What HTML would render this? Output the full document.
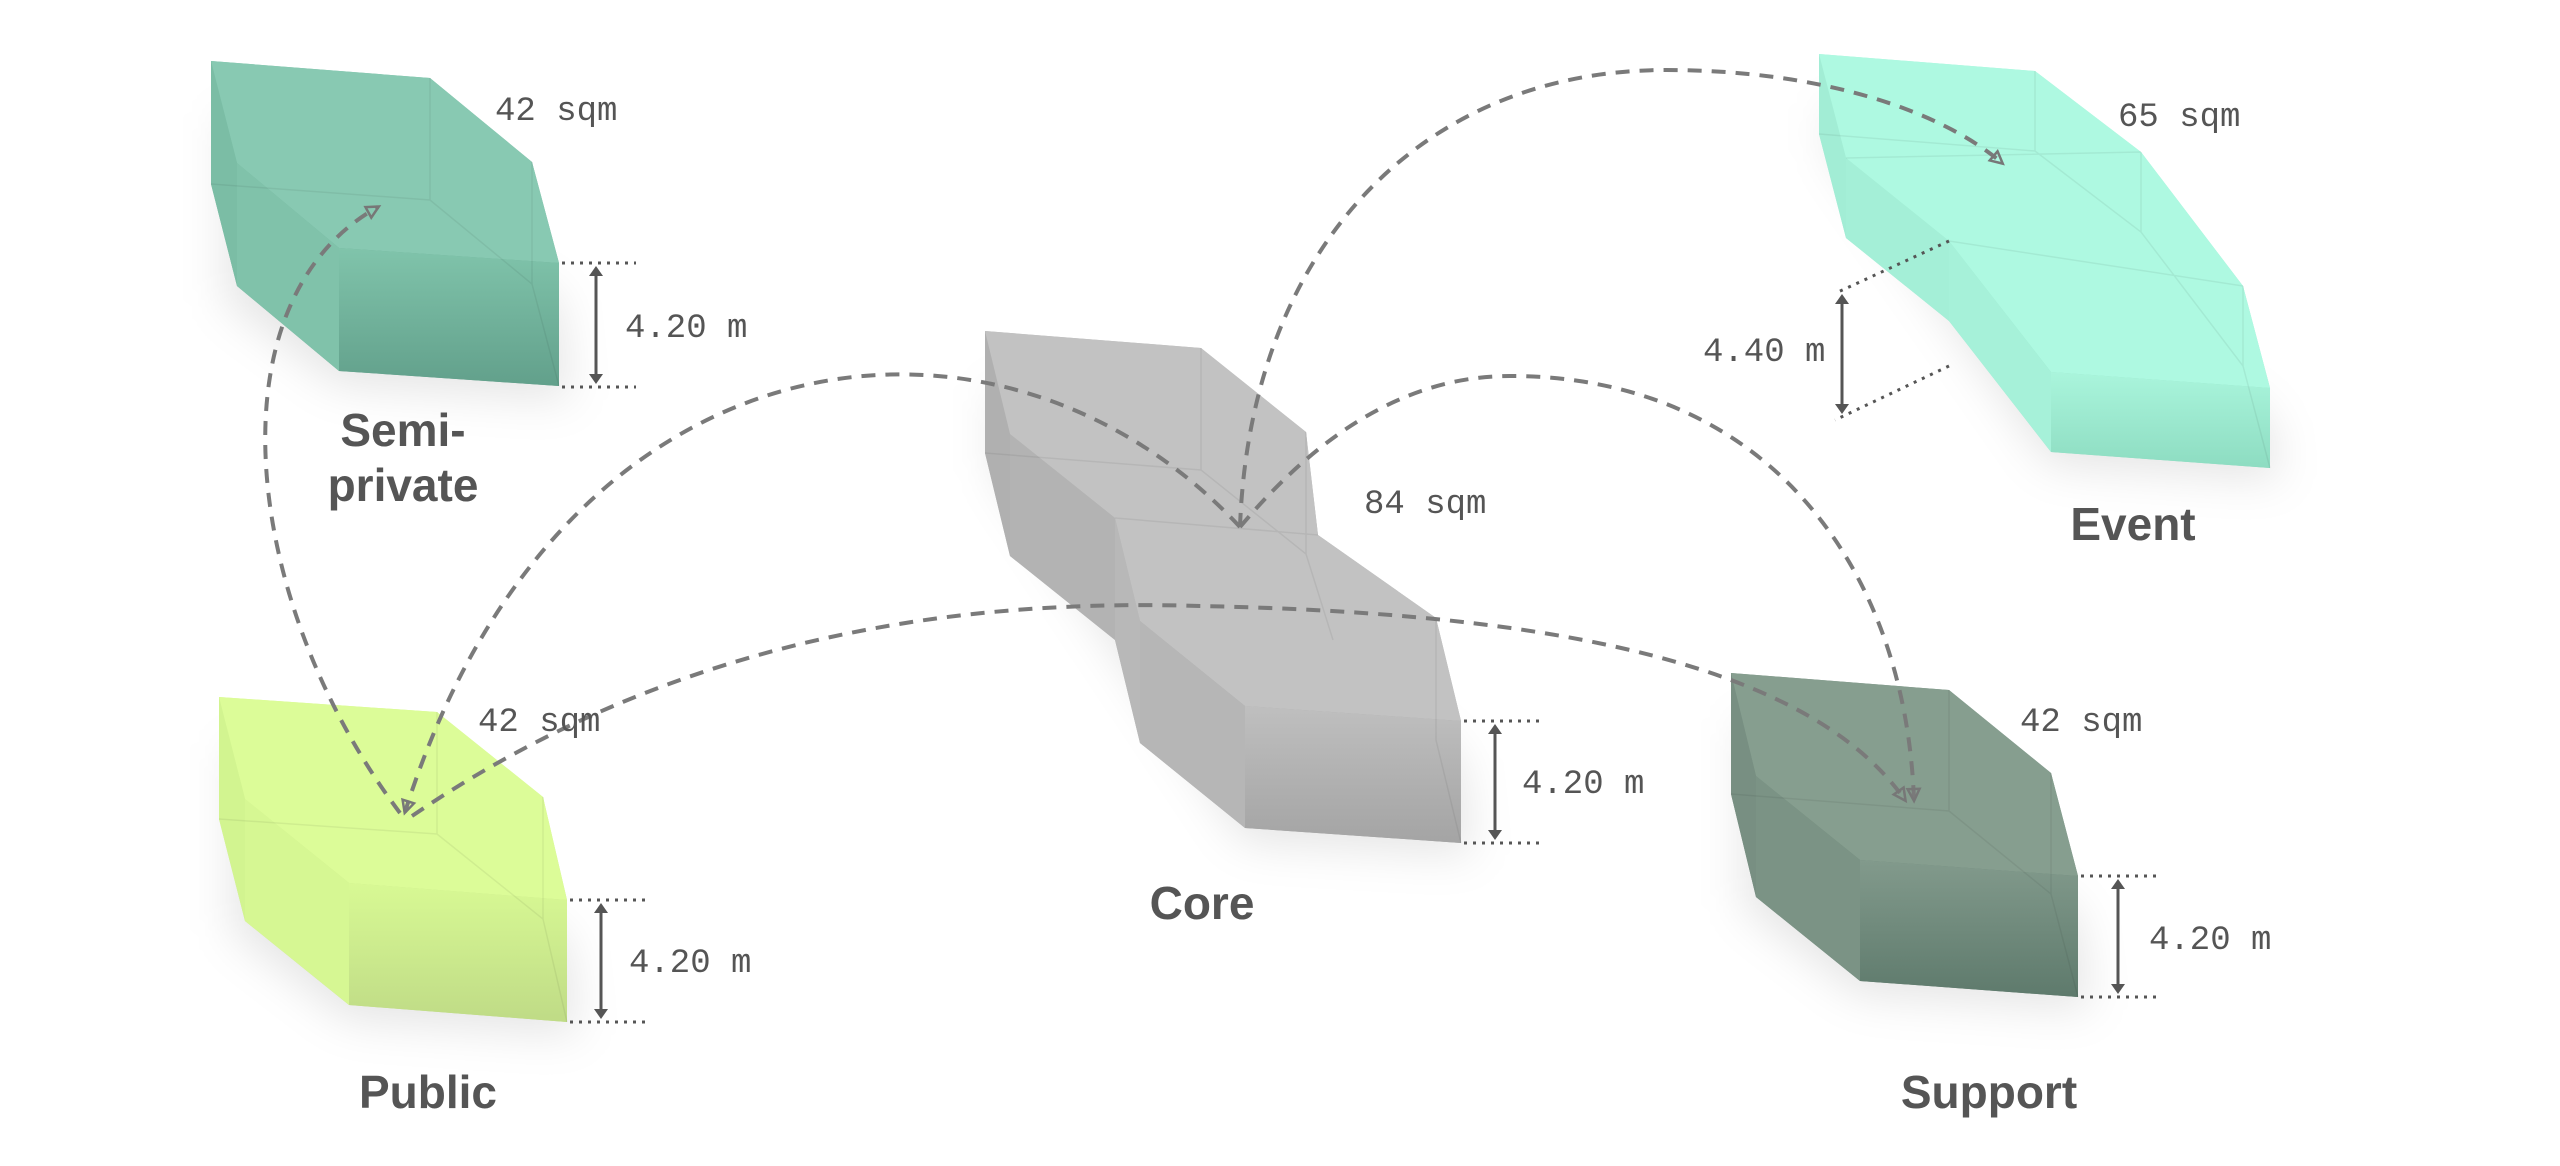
<!DOCTYPE html>
<html><head><meta charset="utf-8"><style>
html,body{margin:0;padding:0;background:#fff}
svg{display:block}
.m{font-family:"Liberation Mono",monospace;font-size:34px;fill:#555}
.b{font-family:"Liberation Sans",sans-serif;font-weight:bold;font-size:46px;fill:#555;text-anchor:middle}
.d{fill:none;stroke:#7a7a7a;stroke-width:4;stroke-dasharray:14 10}
.dot{stroke:#555;stroke-width:3;stroke-dasharray:3 6}
.ar{stroke:#555;stroke-width:3}
.e{fill:none;stroke:rgba(0,0,0,0.06);stroke-width:1.5}
</style></head><body>
<svg width="2560" height="1166" viewBox="0 0 2560 1166" xmlns="http://www.w3.org/2000/svg">
<defs>
<filter id="sh" x="-30%" y="-30%" width="160%" height="160%"><feGaussianBlur stdDeviation="22"/></filter>
<marker id="ah" markerWidth="18" markerHeight="18" refX="13" refY="9" orient="auto" markerUnits="userSpaceOnUse">
<path d="M2,3 L14,9 L2,15 Z" fill="none" stroke="#777" stroke-width="2.5"/></marker>
<marker id="aa" markerWidth="20" markerHeight="20" refX="10" refY="10" orient="auto-start-reverse" markerUnits="userSpaceOnUse">
<path d="M2,3 L12,10 L2,17 Z" fill="#555"/></marker>
<linearGradient id="gs" x1="0" y1="0" x2="0" y2="1"><stop offset="0" stop-color="#80c4ab"/><stop offset="1" stop-color="#62a08b"/></linearGradient>
<linearGradient id="gp" x1="0" y1="0" x2="0" y2="1"><stop offset="0" stop-color="#d8f994"/><stop offset="1" stop-color="#bfdb86"/></linearGradient>
<linearGradient id="gu" x1="0" y1="0" x2="0" y2="1"><stop offset="0" stop-color="#829a8c"/><stop offset="1" stop-color="#5e7a6c"/></linearGradient>
<linearGradient id="ge" x1="0" y1="0" x2="0" y2="1"><stop offset="0" stop-color="#aaf5dc"/><stop offset="1" stop-color="#8ddcc1"/></linearGradient>
<linearGradient id="gc" x1="0" y1="0" x2="0" y2="1"><stop offset="0" stop-color="#bfbfbf"/><stop offset="1" stop-color="#a4a4a4"/></linearGradient>
</defs>

<g filter="url(#sh)" fill="rgba(0,0,0,0.10)">
<polygon points="225,110 559,300 570,400 339,385 225,300"/>
<polygon points="232,740 567,940 578,1035 349,1020 232,930"/>
<polygon points="1743,715 2078,915 2090,1010 1860,995 1743,905"/>
<polygon points="1830,100 2270,420 2280,480 2051,465 1830,150"/>
<polygon points="995,380 1461,760 1472,855 1245,842 995,470"/>
</g>

<g>
<polygon points="211,61 430,78 532,162 559,263 559,386 339,371 237,286 211,184" fill="url(#gs)"/>
<polygon points="211,61 430,78 532,162 559,263 339,248 237,163" fill="#88c9b2"/>
<polygon points="339,248 237,163 237,286 339,371" fill="#80c2aa"/>
<polygon points="237,163 211,61 211,184 237,286" fill="#7bbda5"/>
<polygon points="559,263 339,248 339,371 559,386" fill="url(#gs)"/>
<path class="e" d="M211,184 L430,200 L532,284 L559,386 M430,78 L430,200 M532,162 L532,284"/>
</g>
<g>
<polygon points="219,697 437,712 543,797 567,900 567,1022 349,1005 245,921 219,819" fill="url(#gp)"/>
<polygon points="219,697 437,712 543,797 567,900 349,883 245,799" fill="#dcfc98"/>
<polygon points="349,883 245,799 245,921 349,1005" fill="#d6f793"/>
<polygon points="245,799 219,697 219,819 245,921" fill="#d2f490"/>
<polygon points="567,900 349,883 349,1005 567,1022" fill="url(#gp)"/>
<path class="e" d="M219,819 L437,834 L543,919 L567,1022 M437,712 L437,834 M543,797 L543,919"/>
</g>
<g>
<polygon points="1731,673 1949,690 2051,773 2078,876 2078,997 1860,981 1756,897 1731,794" fill="url(#gu)"/>
<polygon points="1731,673 1949,690 2051,773 2078,876 1860,860 1756,776" fill="#869e8f"/>
<polygon points="1860,860 1756,776 1756,897 1860,981" fill="#7b9385"/>
<polygon points="1756,776 1731,673 1731,794 1756,897" fill="#788f82"/>
<polygon points="2078,876 1860,860 1860,981 2078,997" fill="url(#gu)"/>
<path class="e" d="M1731,794 L1949,811 L2051,894 L2078,997 M1949,690 L1949,811 M2051,773 L2051,894"/>
</g>
<g>
<polygon points="1819,54 2035,71 2141,152 2243,286 2270,388 2270,468 2051,452 1949,321 1846,238 1819,134" fill="url(#ge)"/>
<polygon points="1819,54 2035,71 2141,152 2243,286 2270,388 2051,372 1949,241 1846,158" fill="#aef9e1"/>
<polygon points="2051,372 1949,241 1949,321 2051,452" fill="#a6f1d9"/>
<polygon points="1949,241 1846,158 1846,238 1949,321" fill="#a4efd7"/>
<polygon points="1846,158 1819,54 1819,134 1846,238" fill="#a2edd5"/>
<polygon points="2270,388 2051,372 2051,452 2270,468" fill="url(#ge)"/>
<path class="e" d="M1819,134 L2035,151 L2141,232 L2243,366 L2270,468 M2035,71 L2035,151 M2141,152 L2141,232 M2243,286 L2243,366 M1846,158 L2141,152 M1949,241 L2243,286"/>
</g>
<g>
<polygon points="985,331 1201,348 1306,432 1318,535 1436,618 1461,721 1461,843 1245,828 1140,743 1115,640 1010,556 985,453" fill="url(#gc)"/>
<polygon points="985,331 1201,348 1306,432 1318,535 1436,618 1461,721 1245,706 1140,621 1115,518 1010,434" fill="#c2c2c2"/>
<polygon points="1245,706 1140,621 1140,743 1245,828" fill="#b6b6b6"/>
<polygon points="1140,621 1115,518 1115,640 1140,743" fill="#b8b8b8"/>
<polygon points="1115,518 1010,434 1010,556 1115,640" fill="#b3b3b3"/>
<polygon points="1010,434 985,331 985,453 1010,556" fill="#b0b0b0"/>
<polygon points="1461,721 1245,706 1245,828 1461,843" fill="url(#gc)"/>
<path class="e" d="M985,453 L1201,470 L1306,554 M1306,432 L1306,554 L1333,640 M1201,348 L1201,470 M1436,618 L1436,740 L1461,843 M1115,518 L1318,535"/>
</g>

<path class="d" d="M400,813 C240,600 210,300 378,207" marker-end="url(#ah)"/>
<path class="d" d="M1240,527 C1000,270 560,320 405,812" marker-end="url(#ah)"/>
<path class="d" d="M1240,527 C1250,250 1420,70 1666,70 C1820,70 1940,110 2002,163" marker-end="url(#ah)"/>
<path class="d" d="M1240,527 C1330,420 1420,376 1510,376 C1760,376 1905,560 1914,800" marker-end="url(#ah)"/>
<path class="d" d="M412,816 C700,620 1000,600 1200,606 C1500,612 1800,650 1905,800" marker-end="url(#ah)"/>

<line class="dot" x1="562" y1="263" x2="636" y2="263"/><line class="dot" x1="562" y1="387" x2="636" y2="387"/>
<line class="ar" x1="596" y1="268" x2="596" y2="382" marker-start="url(#aa)" marker-end="url(#aa)"/>
<text class="m" x="625" y="337">4.20 m</text>

<line class="dot" x1="570" y1="900" x2="646" y2="900"/><line class="dot" x1="570" y1="1022" x2="646" y2="1022"/>
<line class="ar" x1="601" y1="905" x2="601" y2="1017" marker-start="url(#aa)" marker-end="url(#aa)"/>
<text class="m" x="629" y="972">4.20 m</text>

<line class="dot" x1="1464" y1="721" x2="1540" y2="721"/><line class="dot" x1="1464" y1="843" x2="1540" y2="843"/>
<line class="ar" x1="1495" y1="726" x2="1495" y2="838" marker-start="url(#aa)" marker-end="url(#aa)"/>
<text class="m" x="1522" y="793">4.20 m</text>

<line class="dot" x1="2081" y1="876" x2="2157" y2="876"/><line class="dot" x1="2081" y1="997" x2="2157" y2="997"/>
<line class="ar" x1="2118" y1="881" x2="2118" y2="992" marker-start="url(#aa)" marker-end="url(#aa)"/>
<text class="m" x="2149" y="949">4.20 m</text>

<line class="dot" x1="1949" y1="241" x2="1838" y2="292"/><line class="dot" x1="1949" y1="366" x2="1835" y2="420"/>
<line class="ar" x1="1842" y1="296" x2="1842" y2="412" marker-start="url(#aa)" marker-end="url(#aa)"/>
<text class="m" x="1703" y="361">4.40 m</text>

<text class="m" x="495" y="120">42 sqm</text>
<text class="m" x="2118" y="126">65 sqm</text>
<text class="m" x="1364" y="513">84 sqm</text>
<text class="m" x="478" y="731">42 sqm</text>
<text class="m" x="2020" y="731">42 sqm</text>

<text class="b" x="403" y="446">Semi-</text>
<text class="b" x="403" y="501">private</text>
<text class="b" x="2133" y="540">Event</text>
<text class="b" x="1202" y="919">Core</text>
<text class="b" x="428" y="1108">Public</text>
<text class="b" x="1989" y="1108">Support</text>
</svg>
</body></html>
